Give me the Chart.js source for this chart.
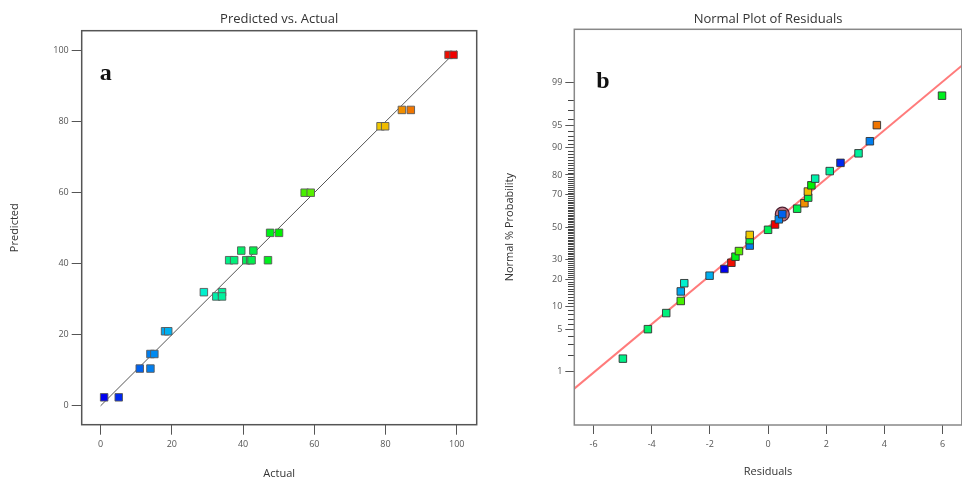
<!DOCTYPE html>
<html><head><meta charset="utf-8">
<script src="https://cdn.jsdelivr.net/npm/chart.js@4/dist/chart.umd.min.js"></script>
<style>
html,body{margin:0;padding:0;background:#fff;overflow:hidden;width:962px;height:478px;}
#wrap{position:relative;width:962px;height:478px;overflow:hidden;background:#fff;}
#c1{position:absolute;left:0;top:0;}
#c2{position:absolute;left:490px;top:0;}
</style></head><body>
<div id="wrap">
<canvas id="c1" width="490" height="478"></canvas>
<canvas id="c2" width="480" height="478"></canvas>
</div>
<script>
// ---------------- data (runs ordered by residual rank) ----------------
const runActual    = [36.1, 39.5, 37.5, 57.3, 18.1, 29.0, 19.0, 1.0, 97.7, 47.6, 59.0, 14.0, 42.9, 78.6, 40.9, 99.1, 15.1, 11.0, 42.0, 84.6, 42.4, 79.9, 50.1, 32.5, 34.1, 5.1, 34.1, 14.0, 87.1, 47.0];
const runPredicted = [41.0, 43.7, 41.0, 60.0, 21.0, 32.0, 21.0, 2.4, 98.8, 48.7, 60.0, 14.6, 43.7, 78.7, 41.0, 98.8, 14.6, 10.5, 41.0, 83.3, 41.0, 78.7, 48.7, 30.8, 32.0, 2.4, 30.8, 10.5, 83.3, 41.0];
const residuals    = [-4.99, -4.13, -3.50, -3.00, -3.00, -2.88, -2.01, -1.50, -1.26, -1.12, -1.00, -0.63, -0.63, -0.63, 0.00, 0.24, 0.37, 0.49, 1.00, 1.25, 1.38, 1.37, 1.49, 1.62, 2.12, 2.49, 3.11, 3.50, 3.74, 5.98];
const normalProb   = [1.7, 5.0, 8.3, 11.7, 15.0, 18.3, 21.7, 25.0, 28.3, 31.7, 35.0, 38.3, 41.7, 45.0, 48.3, 51.7, 55.0, 58.3, 61.7, 65.0, 68.3, 71.7, 75.0, 78.3, 81.7, 85.0, 88.3, 91.7, 95.0, 98.3];
const highlightedRun = 17;
const diagonalX = [0, 100];
const diagonalY = [0, 100];
const fitResiduals = [-7, 7];
const fitProb = [0.31, 99.69];
const ticksA = [0, 20, 40, 60, 80, 100];
const ticksResidual = [-6, -4, -2, 0, 2, 4, 6];
const ticksProbMajor = [1, 5, 10, 20, 30, 50, 70, 80, 90, 95, 99];
const ticksProbMinor = [];
for (let p = 1; p <= 99; p++) if (ticksProbMajor.indexOf(p) < 0) ticksProbMinor.push(p);

// ---------------- helpers ----------------
function probit(p){
  const a=[-3.969683028665376e+01,2.209460984245205e+02,-2.759285104469687e+02,1.383577518672690e+02,-3.066479806614716e+01,2.506628277459239e+00];
  const b=[-5.447609879822406e+01,1.615858368580409e+02,-1.556989798598866e+02,6.680131188771972e+01,-1.328068155288572e+01];
  const c=[-7.784894002430293e-03,-3.223964580411365e-01,-2.400758277161838e+00,-2.549732539343734e+00,4.374664141464968e+00,2.938163982698783e+00];
  const d=[7.784695709041462e-03,3.224671290700398e-01,2.445134137142996e+00,3.754408661907416e+00];
  const pl=0.02425, ph=1-pl; let q,r;
  if(p<pl){q=Math.sqrt(-2*Math.log(p));return (((((c[0]*q+c[1])*q+c[2])*q+c[3])*q+c[4])*q+c[5])/((((d[0]*q+d[1])*q+d[2])*q+d[3])*q+1);}
  if(p<=ph){q=p-0.5;r=q*q;return (((((a[0]*r+a[1])*r+a[2])*r+a[3])*r+a[4])*r+a[5])*q/(((((b[0]*r+b[1])*r+b[2])*r+b[3])*r+b[4])*r+1);}
  q=Math.sqrt(-2*Math.log(1-p));return -(((((c[0]*q+c[1])*q+c[2])*q+c[3])*q+c[4])*q+c[5])/((((d[0]*q+d[1])*q+d[2])*q+d[3])*q+1);
}
const aMin = Math.min(...runActual), aMax = Math.max(...runActual);
function colourFor(v){ const t=(v-aMin)/(aMax-aMin); return 'hsl(' + (240*(1-t)).toFixed(1) + ',100%,47%)'; }
const runColours = runActual.map(colourFor);

const FONT = "'Open Sans','Noto Sans',sans-serif";
const TICKCOL = '#555';
const tickFont = {family: FONT, size: 9};

function makeBoxPlugin(borderColor, letter, lx, ly, withMinor){
  return {
    id: 'box' + letter,
    afterDraw(chart){
      const ctx = chart.ctx, ca = chart.chartArea;
      ctx.save();
      if (withMinor){
        const ys = chart.scales.y;
        const xr = Math.round(ca.left);
        ctx.strokeStyle = '#444'; ctx.lineWidth = 1;
        ctx.beginPath();
        ticksProbMinor.forEach(p => {
          const y = Math.round(ys.getPixelForValue(probit(p/100))) + 0.5;
          ctx.moveTo(xr - 6, y); ctx.lineTo(xr, y);
        });
        ctx.stroke();
      }
      ctx.strokeStyle = borderColor; ctx.lineWidth = 1.5;
      ctx.strokeRect(ca.left, ca.top, ca.right-ca.left, ca.bottom-ca.top);
      ctx.fillStyle = '#111';
      ctx.font = "bold 24px 'Liberation Serif','DejaVu Serif',serif";
      ctx.textBaseline = 'alphabetic';
      ctx.textAlign = 'left';
      ctx.fillText(letter, ca.left + lx, ca.top + ly);
      ctx.restore();
    }
  };
}

// ---------------- chart a ----------------
new Chart(document.getElementById('c1'), {
  type: 'scatter',
  data: { datasets: [
    { type: 'line', data: diagonalX.map((x,i)=>({x, y: diagonalY[i]})), borderColor: '#555', borderWidth: 1,
      pointRadius: 0, fill: false, order: 3 },
    { data: runActual.map((x,i)=>({x, y: runPredicted[i]})), pointStyle: 'rect', pointRadius: 5.3,
      backgroundColor: runColours, borderColor: 'rgba(90,90,90,0.9)', borderWidth: 1, order: 1 }
  ]},
  options: {
    responsive: false, animation: false,
    layout: { padding: { left: 0, right: 13.3, top: 0, bottom: 0 } },
    plugins: {
      legend: { display: false }, tooltip: { enabled: false },
      title: { display: true, text: 'Predicted vs. Actual', fullSize: false, color: '#333',
        font: { family: FONT, size: 13, weight: 'normal', lineHeight: 1.2 }, padding: { top: 11, bottom: 4.1 } }
    },
    scales: {
      x: { type: 'linear', min: -5.3, max: 105.6,
        afterBuildTicks: s => { s.ticks = ticksA.map(v=>({value:v})); },
        afterFit: s => { s.height = 53.3; },
        grid: { drawOnChartArea: false, drawTicks: true, tickLength: 10, tickColor: TICKCOL },
        border: { display: false },
        ticks: { font: tickFont, color: TICKCOL, padding: 4, maxRotation: 0 },
        title: { display: true, text: 'Actual', color: '#333', font: { family: FONT, size: 11, lineHeight: 0.8 }, padding: { top: 0, bottom: 0 } } },
      y: { type: 'linear', min: -5.3, max: 105.6,
        afterBuildTicks: s => { s.ticks = ticksA.map(v=>({value:v})); },
        afterFit: s => { s.width = 81.7; },
        grid: { drawOnChartArea: false, drawTicks: true, tickLength: 10, tickColor: TICKCOL },
        border: { display: false },
        ticks: { font: tickFont, color: TICKCOL, padding: 3 },
        title: { display: true, text: 'Predicted', color: '#333', font: { family: FONT, size: 11, lineHeight: 1.2 }, padding: { top: 8.4, bottom: 0 } } }
    }
  },
  plugins: [makeBoxPlugin('#555', 'a', 18, 49, false)]
});

// ---------------- chart b ----------------
const zMax = 3.19;
new Chart(document.getElementById('c2'), {
  type: 'scatter',
  data: { datasets: [
    { type: 'line', data: fitResiduals.map((x,i)=>({x, y: probit(fitProb[i]/100)})), borderColor: '#ff7b7b', borderWidth: 2,
      pointRadius: 0, fill: false, order: 4 },
    { data: [{x: residuals[highlightedRun], y: probit(normalProb[highlightedRun]/100)}], pointStyle: 'circle', pointRadius: 7,
      backgroundColor: 'rgba(170,70,90,0.75)', borderColor: '#4a2030', borderWidth: 1.2, order: 3 },
    { data: residuals.map((x,i)=>({x, y: probit(normalProb[i]/100)})), pointStyle: 'rect', pointRadius: 5.3,
      backgroundColor: runColours, borderColor: 'rgba(50,50,50,0.9)', borderWidth: 1, order: 1 }
  ]},
  options: {
    responsive: false, animation: false,
    layout: { padding: { left: 0, right: 0, top: 0, bottom: 0 } },
    plugins: {
      legend: { display: false }, tooltip: { enabled: false },
      title: { display: true, text: 'Normal Plot of Residuals', fullSize: false, color: '#333',
        font: { family: FONT, size: 13, weight: 'normal', lineHeight: 1.2 }, padding: { top: 11, bottom: 2.7 } }
    },
    scales: {
      x: { type: 'linear', min: -6.66, max: 6.66,
        afterBuildTicks: s => { s.ticks = ticksResidual.map(v=>({value:v})); },
        afterFit: s => { s.height = 53; },
        grid: { drawOnChartArea: false, drawTicks: true, tickLength: 9, tickColor: TICKCOL },
        border: { display: false },
        ticks: { font: tickFont, color: TICKCOL, padding: 5, maxRotation: 0 },
        title: { display: true, text: 'Residuals', color: '#333', font: { family: FONT, size: 11, lineHeight: 0.8 }, padding: { top: 0, bottom: 1.9 } } },
      y: { type: 'linear', min: -zMax, max: zMax,
        afterBuildTicks: s => { s.ticks = ticksProbMajor.map(p=>({value: probit(p/100)})); },
        afterFit: s => { s.width = 84.3; },
        grid: { drawOnChartArea: false, drawTicks: true, tickLength: 9, tickColor: TICKCOL },
        border: { display: false },
        ticks: { font: tickFont, color: TICKCOL, padding: 3, callback: (v, i) => String(ticksProbMajor[i]) },
        title: { display: true, text: 'Normal % Probability', color: '#333', font: { family: FONT, size: 11, lineHeight: 1.2 }, padding: { top: 13.4, bottom: 0 } } }
    }
  },
  plugins: [makeBoxPlugin('#888', 'b', 22, 59, true)]
});
</script>
</body></html>
